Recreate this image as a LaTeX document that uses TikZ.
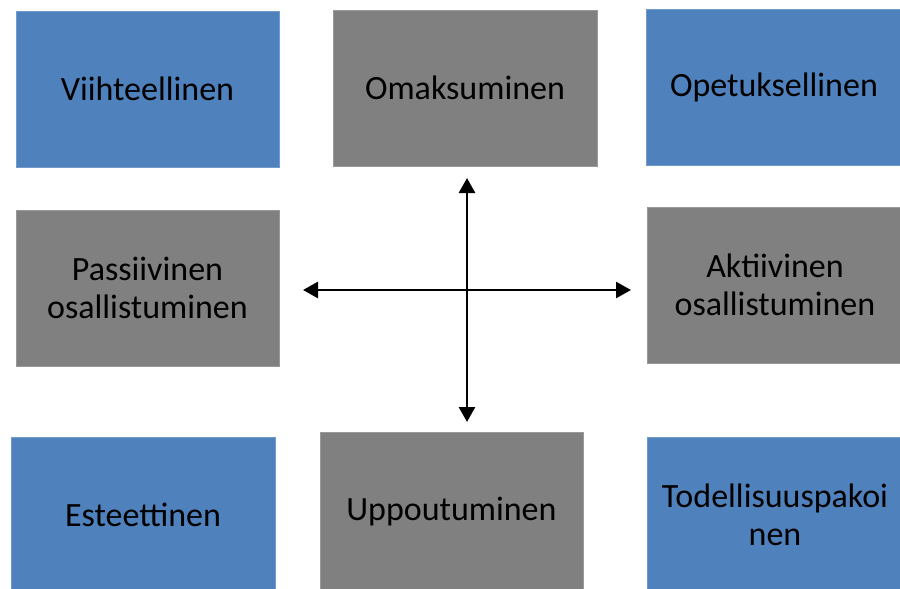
\documentclass[tikz,border=0pt]{standalone}
\usepackage{fontspec}
\setmainfont{Carlito}
\usetikzlibrary{arrows.meta}
\definecolor{boxblue}{HTML}{4F81BD}
\definecolor{boxgray}{HTML}{808080}
\tikzset{
  card/.style={rectangle, inner sep=0pt, outer sep=0pt, align=center,
    font=\fontsize{34}{37.5}\selectfont, text=black},
  bluecard/.style={card, fill=boxblue, draw=boxblue!80!white, line width=0.6pt},
  graycard/.style={card, fill=boxgray, draw=boxgray!80!white, line width=0.6pt},
  axis/.style={line width=2.6pt, draw=black,
    {Triangle[length=15pt,width=16pt]}-{Triangle[length=15pt,width=16pt]}}
}
\begin{document}
\begin{tikzpicture}[x=1pt,y=-1pt]
\useasboundingbox[fill=white] (0,0) rectangle (900,589);
% top row
\node[bluecard, minimum width=263pt, minimum height=156pt] (viih) at (147.5,89) {Viihteellinen};
\node[graycard, minimum width=264pt, minimum height=156pt] (omak) at (465,88) {Omaksuminen};
\node[bluecard, minimum width=256pt, minimum height=156pt] (opet) at (774,87) {Opetuksellinen};
% middle row
\node[graycard, minimum width=263pt, minimum height=156pt] (pass) at (147.5,288) {Passiivinen\\osallistuminen};
\node[graycard, minimum width=256pt, minimum height=156pt] (akti) at (775,285) {Aktiivinen\\osallistuminen};
% bottom row
\node[bluecard, minimum width=264pt, minimum height=156pt] (este) at (143,515) {Esteettinen};
\node[graycard, minimum width=263pt, minimum height=160pt] (uppo) at (451.5,512) {Uppoutuminen};
\node[bluecard, minimum width=256pt, minimum height=156pt] (tode) at (775,515) {Todellisuuspakoi\\nen};
% axes
\coordinate (top) at (467,178);
\coordinate (bottom) at (467,422);
\coordinate (left) at (303,290);
\coordinate (right) at (631,290);
\draw[axis] (top) -- (bottom);
\draw[axis] (left) -- (right);
\end{tikzpicture}
\end{document}
